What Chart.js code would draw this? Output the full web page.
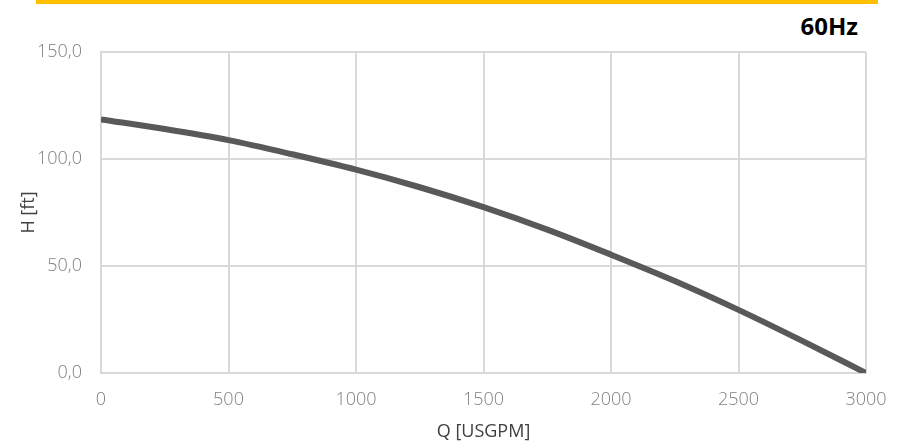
<!DOCTYPE html>
<html>
<head>
<meta charset="utf-8">
<script src="https://cdn.jsdelivr.net/npm/chart.js@4"></script>
<style>
  html, body { margin: 0; padding: 0; background: #fff; }
  #wrap { position: relative; width: 907px; height: 447px; }
  #topBar { position: absolute; left: 36px; top: 0; width: 842px; height: 4px; background: #ffc000; }
  #freq { position: absolute; right: 49px; top: 9px; font: bold 24px "Open Sans", sans-serif; color: #000; }
  canvas { position: absolute; left: 0; top: 0; }
</style>
</head>
<body>
<div id="wrap">
  <div id="topBar"></div>
  <div id="freq">60Hz</div>
  <canvas id="curve" width="907" height="447"></canvas>
</div>
<script>
// Q-H Kennlinie, 60Hz
const flow = [0, 250, 500, 750, 1000, 1250, 1500, 1750, 2000, 2250, 2500, 2750, 3000];
const head = [118.5, 114.0, 108.8, 102.2, 95.0, 86.8, 77.5, 67.0, 55.3, 43.0, 29.5, 15.0, 0];
const xTicks = [0, 500, 1000, 1500, 2000, 2500, 3000];
const yTicks = [0, 50, 100, 150];

const tickFont = { family: 'Open Sans', size: 18, weight: 300 };
const titleFont = { family: 'Open Sans', size: 18, weight: 400 };

new Chart(document.getElementById('curve'), {
    type: 'scatter',
    data: {
        datasets: [{
            data: flow.map((q, i) => ({ x: q, y: head[i] })),
            showLine: true,
            borderColor: '#595959',
            borderWidth: 6,
            pointRadius: 0,
            cubicInterpolationMode: 'monotone',
            fill: false
        }]
    },
    options: {
        responsive: false,
        animation: false,
        layout: { padding: { top: 52, right: 41, left: 14, bottom: 0 } },
        plugins: { legend: { display: false }, tooltip: { enabled: false } },
        scales: {
            x: {
                type: 'linear',
                min: 0, max: 3000,
                afterBuildTicks: s => { s.ticks = xTicks.map(v => ({ value: v })); },
                afterFit: s => { s.height = 74; },
                grid: { color: '#d9d9d9', lineWidth: 2, tickLength: 0 },
                border: { color: '#d9d9d9', width: 2 },
                ticks: { color: '#7f7f7f', font: tickFont, padding: 16, maxRotation: 0, callback: v => String(v) },
                title: { display: true, text: 'Q [USGPM]', color: '#404040', font: titleFont, padding: { top: 3 } }
            },
            y: {
                min: 0, max: 150,
                afterBuildTicks: s => { s.ticks = yTicks.map(v => ({ value: v })); },
                afterFit: s => { s.width = 87; },
                grid: { color: '#d9d9d9', lineWidth: 2, tickLength: 0 },
                border: { color: '#d9d9d9', width: 2 },
                ticks: {
                    color: '#7f7f7f', font: tickFont, padding: 19,
                    callback: v => v.toFixed(1).replace('.', ',')
                },
                title: { display: true, text: 'H [ft]', color: '#404040', font: titleFont, padding: { bottom: 3 } }
            }
        }
    }
});
</script>
</body>
</html>
